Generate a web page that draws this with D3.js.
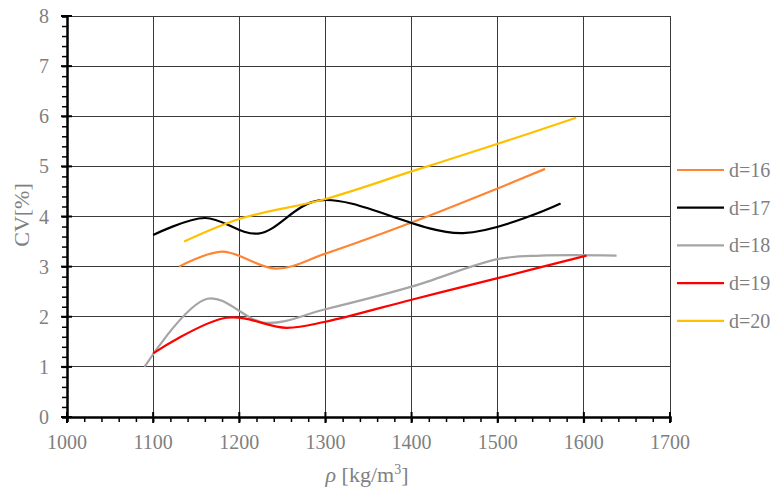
<!DOCTYPE html>
<html>
<head>
<meta charset="utf-8">
<script src="https://cdn.jsdelivr.net/npm/d3@7"></script>
<style>
  body { margin: 0; background: #fff; }
  svg text { font-family: "Liberation Serif", "Times New Roman", serif; fill: #7f7f7f; }
</style>
</head>
<body>
<svg id="chart" width="781" height="496"></svg>
<script>
// series
const names = ["d=16", "d=17", "d=18", "d=19", "d=20"];
const colors = ["#ff8533", "#000000", "#a5a5a5", "#ff0000", "#ffc000"];
const x16 = [1130, 1180, 1243, 1300, 1400, 1500, 1555];
const y16 = [3.0, 3.3, 2.96, 3.26, 3.88, 4.56, 4.95];
const x17 = [1100, 1160, 1222, 1293, 1460, 1573];
const y17 = [3.63, 3.97, 3.66, 4.32, 3.67, 4.26];
const x18 = [1090, 1163, 1230, 1300, 1400, 1500, 1550, 1638];
const y18 = [1.0, 2.36, 1.88, 2.15, 2.6, 3.15, 3.22, 3.22];
const x19 = [1100, 1185, 1255, 1300, 1400, 1500, 1603];
const y19 = [1.27, 1.98, 1.78, 1.9, 2.34, 2.77, 3.22];
const x20 = [1136, 1200, 1300, 1400, 1500, 1591];
const y20 = [3.5, 3.95, 4.35, 4.9, 5.45, 5.97];
const xTicks = [1000, 1100, 1200, 1300, 1400, 1500, 1600, 1700];
const yTicks = [0, 1, 2, 3, 4, 5, 6, 7, 8];

const seriesX = [x16, x17, x18, x19, x20];
const seriesY = [y16, y17, y18, y19, y20];
const serif = "'Liberation Serif', 'Times New Roman', serif";

const svg = d3.select("#chart");
const x = d3.scaleLinear().domain([1000, 1700]).range([67, 670]);
const y = d3.scaleLinear().domain([0, 8]).range([417, 16]);

// grid
const grid = svg.append("g").attr("stroke", "#3a3a3a").attr("stroke-width", 1).attr("shape-rendering", "crispEdges");
grid.selectAll(".gy").data(yTicks.slice(1)).enter().append("line")
  .attr("x1", x(1000)).attr("x2", x(1700))
  .attr("y1", (d) => y(d)).attr("y2", (d) => y(d));
grid.selectAll(".gx").data(xTicks.slice(1)).enter().append("line")
  .attr("x1", (d) => x(d)).attr("x2", (d) => x(d))
  .attr("y1", y(0)).attr("y2", y(8));

// y axis
const yAxis = svg.append("g").attr("transform", `translate(${x(1000)},0)`);
yAxis.call(d3.axisLeft(y).tickValues(d3.range(0, 8.01, 0.2)).tickSize(5).tickFormat(""));
yAxis.attr("font-family", serif);
yAxis.call((g) => g.selectAll(".tick line").attr("stroke", "#000").attr("stroke-width", 1.5));
yAxis.select(".domain").attr("stroke", "#000").attr("stroke-width", 2.5);
yAxis.selectAll(".major").data(yTicks).enter().append("line")
  .attr("x1", -6).attr("x2", 5)
  .attr("y1", (d) => y(d)).attr("y2", (d) => y(d))
  .attr("stroke", "#000").attr("stroke-width", 2);
yAxis.selectAll(".lab").data(yTicks).enter().append("text")
  .attr("x", -18).attr("y", (d) => y(d) + 7)
  .attr("text-anchor", "end").attr("font-size", 20)
  .text((d) => d);

// x axis
const xAxis = svg.append("g").attr("transform", `translate(0,${y(0)})`);
xAxis.call(d3.axisBottom(x).tickValues(d3.range(1000, 1701, 20)).tickSize(5).tickFormat(""));
xAxis.attr("font-family", serif);
xAxis.call((g) => g.selectAll(".tick line").attr("stroke", "#000").attr("stroke-width", 1.5));
xAxis.select(".domain").attr("stroke", "#000").attr("stroke-width", 2.5);
xAxis.selectAll(".major").data(xTicks).enter().append("line")
  .attr("x1", (d) => x(d)).attr("x2", (d) => x(d))
  .attr("y1", -5).attr("y2", 6)
  .attr("stroke", "#000").attr("stroke-width", 2);
xAxis.selectAll(".lab").data(xTicks).enter().append("text")
  .attr("x", (d) => x(d)).attr("y", 32)
  .attr("text-anchor", "middle").attr("font-size", 20)
  .text((d) => d);

// lines
const line = d3.line().curve(d3.curveCatmullRom.alpha(0.5))
  .x((d) => x(d[0])).y((d) => y(d[1]));
names.forEach((n, i) => {
  const pts = seriesX[i].map((v, j) => [v, seriesY[i][j]]);
  svg.append("path").datum(pts)
    .attr("fill", "none").attr("stroke", colors[i]).attr("stroke-width", 2.2)
    .attr("d", line);
});

// legend
const leg = svg.append("g");
names.forEach((n, i) => {
  const ly = 170 + i * 37.7;
  leg.append("line").attr("x1", 677).attr("x2", 724).attr("y1", ly).attr("y2", ly)
    .attr("stroke", colors[i]).attr("stroke-width", 2.2);
  leg.append("text").attr("x", 729).attr("y", ly + 7).attr("font-size", 20).text(n);
});

// axis titles
const xt = svg.append("text").attr("x", 367).attr("y", 482).attr("text-anchor", "middle").attr("font-size", 22);
xt.append("tspan").attr("font-style", "italic").text("ρ");
xt.append("tspan").text(" [kg/m");
xt.append("tspan").attr("font-size", 14).attr("dy", -8).text("3");
xt.append("tspan").attr("dy", 8).text("]");

svg.append("text").attr("transform", "translate(29,215) rotate(-90)")
  .attr("text-anchor", "middle").attr("font-size", 22).text("CV[%]");
</script>
</body>
</html>
